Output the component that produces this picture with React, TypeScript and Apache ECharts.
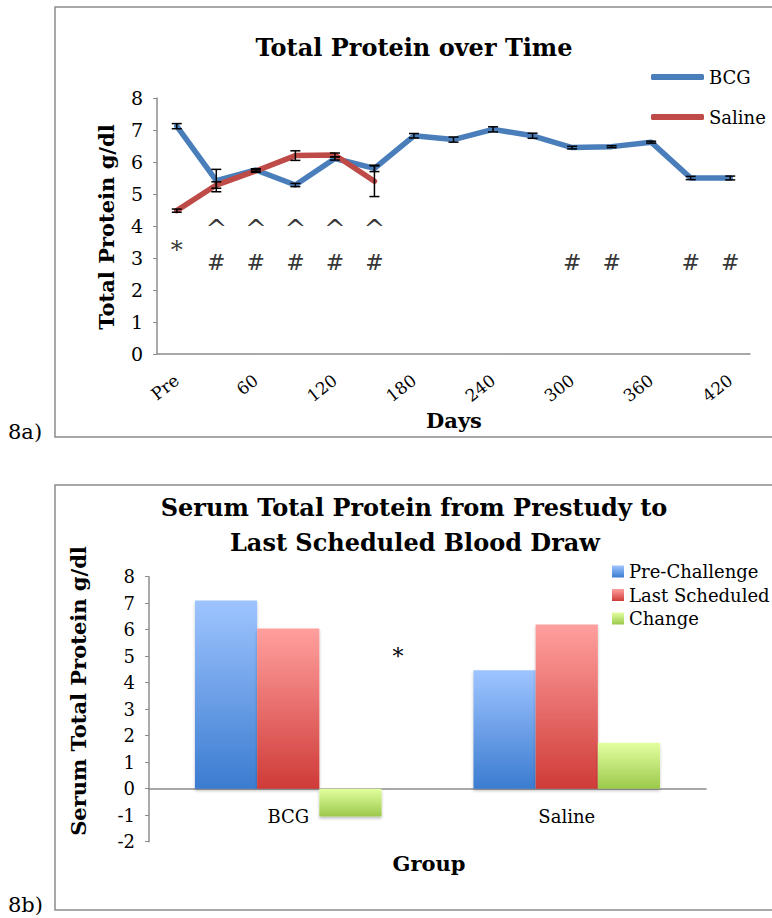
import React, { useEffect, useRef } from "react";
import * as echarts from "echarts";

// ---- Figure 8a data ----
const days = ["Pre", "30", "60", "90", "120", "150", "180", "210", "240", "270", "300", "330", "360", "390", "420"];
const bcgProtein = [7.12, 5.42, 5.75, 5.28, 6.11, 5.8, 6.82, 6.7, 7.02, 6.82, 6.45, 6.48, 6.62, 5.5, 5.5];
const bcgSem = [0.08, 0.35, 0.04, 0.05, 0.05, 0.1, 0.07, 0.08, 0.08, 0.08, 0.04, 0.03, 0.03, 0.05, 0.06];
const salineProtein = [4.48, 5.28, 5.72, 6.2, 6.22, 5.4, null, null, null, null, null, null, null, null, null];
const salineSem = [0.05, 0.1, 0.04, 0.15, 0.06, 0.48];
const starDays = [0];
const caretDays = [1, 2, 3, 4, 5];
const hashDays = [1, 2, 3, 4, 5, 10, 11, 13, 14];
const starLevel = 3.25;
const caretLevel = 3.9;
const hashLevel = 2.85;

// ---- Figure 8b data ----
const groups = ["BCG", "Saline"];
const preChallenge = [7.1, 4.47];
const lastScheduled = [6.05, 6.2];
const change = [-1.05, 1.73];

const FONT = "DejaVu Serif";

function grad(top: string, bottom: string) {
  return new echarts.graphic.LinearGradient(0, 0, 0, 1, [
    { offset: 0, color: top },
    { offset: 1, color: bottom },
  ]);
}

function errorBarSeries(name: string, values: (number | null)[], sems: number[]) {
  const data = sems.map((e, i) => [i, (values[i] as number) - e, (values[i] as number) + e]);
  return {
    type: "custom",
    name: name + " SEM",
    xAxisIndex: 0,
    yAxisIndex: 0,
    z: 10,
    silent: true,
    data,
    renderItem: (params: any, api: any) => {
      const x = api.value(0);
      const lo = api.coord([x, api.value(1)]);
      const hi = api.coord([x, api.value(2)]);
      const hw = 5;
      const st = { stroke: "#000", lineWidth: 1.5 };
      return {
        type: "group",
        children: [
          { type: "line", shape: { x1: hi[0], y1: hi[1], x2: lo[0], y2: lo[1] }, style: st },
          { type: "line", shape: { x1: hi[0] - hw, y1: hi[1], x2: hi[0] + hw, y2: hi[1] }, style: st },
          { type: "line", shape: { x1: lo[0] - hw, y1: lo[1], x2: lo[0] + hw, y2: lo[1] }, style: st },
        ],
      };
    },
  };
}

function markSeries(name: string, idx: number[], level: number, text: string, size: number) {
  return {
    type: "scatter",
    name,
    xAxisIndex: 0,
    yAxisIndex: 0,
    symbolSize: 1,
    itemStyle: { color: "rgba(0,0,0,0)" },
    silent: true,
    data: idx.map((i) => [i, level]),
    label: {
      show: true,
      position: "inside",
      formatter: () => text,
      color: "#000",
      fontSize: size,
      fontFamily: FONT,
    },
  };
}

export default function App() {
  const ref = useRef<HTMLDivElement>(null);
  useEffect(() => {
    if (!ref.current) return;
    const chart = echarts.init(ref.current, null, { renderer: "svg" });
    const axisGray = "#8c8c8c";
    const blueG = grad("#9ec4ff", "#3b7cd0");
    const redG = grad("#ffa09e", "#cf3b38");
    const greenG = grad("#e3ffa0", "#9bc94b");
    const option: any = {
      animation: false,
      backgroundColor: "#fff",
      textStyle: { fontFamily: FONT, color: "#000" },
      grid: [
        { left: 157, top: 98, width: 593, height: 256 },
        { left: 149, top: 576.7, width: 557, height: 265 },
      ],
      xAxis: [
        {
          type: "category",
          gridIndex: 0,
          data: days,
          boundaryGap: true,
          axisLine: { lineStyle: { color: axisGray, width: 1.5 } },
          axisTick: { show: false },
          axisLabel: { interval: 1, rotate: 38, margin: 24, fontSize: 17, color: "#000", fontFamily: FONT },
        },
        {
          type: "category",
          gridIndex: 1,
          data: groups,
          axisLine: { onZero: true, lineStyle: { color: axisGray, width: 1.5 } },
          axisTick: { show: false },
          axisLabel: { margin: -34, fontSize: 18, color: "#000", fontFamily: FONT },
        },
      ],
      yAxis: [
        {
          type: "value",
          gridIndex: 0,
          min: 0,
          max: 8,
          interval: 1,
          axisLine: { show: true, lineStyle: { color: axisGray, width: 1.5 } },
          axisTick: { show: true, length: 4, lineStyle: { color: axisGray } },
          splitLine: { show: false },
          axisLabel: { margin: 14, fontSize: 19, color: "#000", fontFamily: FONT },
        },
        {
          type: "value",
          gridIndex: 1,
          min: -2,
          max: 8,
          interval: 1,
          axisLine: { show: true, lineStyle: { color: axisGray, width: 1.5 } },
          axisTick: { show: true, length: 4, lineStyle: { color: axisGray } },
          splitLine: { show: false },
          axisLabel: { margin: 14, fontSize: 18, color: "#000", fontFamily: FONT },
        },
      ],
      legend: [
        {
          data: ["BCG", "Saline"],
          orient: "vertical",
          left: 646,
          top: 62,
          itemWidth: 53,
          itemHeight: 6,
          itemGap: 20,
          icon: "roundRect",
          selectedMode: false,
          textStyle: { fontSize: 18, lineHeight: 20, color: "#000", fontFamily: FONT },
        },
        {
          data: ["Pre-Challenge", "Last Scheduled", "Change"],
          orient: "vertical",
          left: 607,
          top: 556.5,
          itemWidth: 12,
          itemHeight: 12,
          itemGap: 3.5,
          icon: "rect",
          selectedMode: false,
          textStyle: { fontSize: 18, lineHeight: 20, color: "#000", fontFamily: FONT },
        },
      ],
      series: [
        {
          type: "line",
          name: "BCG",
          xAxisIndex: 0,
          yAxisIndex: 0,
          data: bcgProtein,
          color: "#4a7ebb",
          symbol: "none",
          lineStyle: { width: 5.5, color: "#4a7ebb", cap: "round", join: "round" },
          z: 3,
        },
        {
          type: "line",
          name: "Saline",
          xAxisIndex: 0,
          yAxisIndex: 0,
          data: salineProtein,
          color: "#be4b48",
          symbol: "none",
          lineStyle: { width: 5.5, color: "#be4b48", cap: "round", join: "round" },
          z: 4,
        },
        errorBarSeries("BCG", bcgProtein, bcgSem),
        errorBarSeries("Saline", salineProtein, salineSem),
        markSeries("star", starDays, starLevel, "*", 24),
        markSeries("caret", caretDays, caretLevel, "^", 26),
        markSeries("hash", hashDays, hashLevel, "#", 22),
        {
          type: "bar",
          name: "Pre-Challenge",
          xAxisIndex: 1,
          yAxisIndex: 1,
          data: preChallenge,
          barGap: "0%",
          barCategoryGap: "33%",
          itemStyle: { color: blueG, shadowBlur: 3, shadowColor: "rgba(0,0,0,0.25)", shadowOffsetY: 2 },
        },
        {
          type: "bar",
          name: "Last Scheduled",
          xAxisIndex: 1,
          yAxisIndex: 1,
          data: lastScheduled,
          barGap: "0%",
          barCategoryGap: "33%",
          itemStyle: { color: redG, shadowBlur: 3, shadowColor: "rgba(0,0,0,0.25)", shadowOffsetY: 2 },
        },
        {
          type: "bar",
          name: "Change",
          xAxisIndex: 1,
          yAxisIndex: 1,
          data: change,
          barGap: "0%",
          barCategoryGap: "33%",
          itemStyle: { color: greenG, shadowBlur: 3, shadowColor: "rgba(0,0,0,0.25)", shadowOffsetY: 2 },
        },
      ],
      graphic: [
        { type: "rect", shape: { x: 55, y: 7, width: 720, height: 430 }, style: { fill: "none", stroke: "#8c8c8c", lineWidth: 1.5 }, silent: true },
        { type: "rect", shape: { x: 55, y: 485, width: 720, height: 425 }, style: { fill: "none", stroke: "#8c8c8c", lineWidth: 1.5 }, silent: true },
        { type: "text", x: 414, y: 47, style: { text: "Total Protein over Time", align: "center", verticalAlign: "middle", font: `bold 24px "${FONT}"`, fill: "#000" } },
        { type: "text", x: 106, y: 227, rotation: Math.PI / 2, style: { text: "Total Protein g/dl", align: "center", verticalAlign: "middle", font: `bold 21px "${FONT}"`, fill: "#000" } },
        { type: "text", x: 454, y: 420, style: { text: "Days", align: "center", verticalAlign: "middle", font: `bold 21px "${FONT}"`, fill: "#000" } },
        { type: "text", x: 8, y: 432, style: { text: "8a)", align: "left", verticalAlign: "middle", font: `21px "${FONT}"`, fill: "#000" } },
        { type: "text", x: 414, y: 507, style: { text: "Serum Total Protein from Prestudy to", align: "center", verticalAlign: "middle", font: `bold 24px "${FONT}"`, fill: "#000" } },
        { type: "text", x: 415, y: 542, style: { text: "Last Scheduled Blood Draw", align: "center", verticalAlign: "middle", font: `bold 24px "${FONT}"`, fill: "#000" } },
        { type: "text", x: 78, y: 691, rotation: Math.PI / 2, style: { text: "Serum Total Protein g/dl", align: "center", verticalAlign: "middle", font: `bold 21px "${FONT}"`, fill: "#000" } },
        { type: "text", x: 429, y: 863, style: { text: "Group", align: "center", verticalAlign: "middle", font: `bold 21px "${FONT}"`, fill: "#000" } },
        { type: "text", x: 398, y: 656, style: { text: "*", align: "center", verticalAlign: "middle", font: `22px "${FONT}"`, fill: "#000" } },
        { type: "text", x: 8, y: 905, style: { text: "8b)", align: "left", verticalAlign: "middle", font: `21px "${FONT}"`, fill: "#000" } },
      ],
    };
    chart.setOption(option);
    return () => chart.dispose();
  }, []);
  return <div ref={ref} style={{ position: "absolute", left: 0, top: 0, width: 772, height: 918 }} />;
}
